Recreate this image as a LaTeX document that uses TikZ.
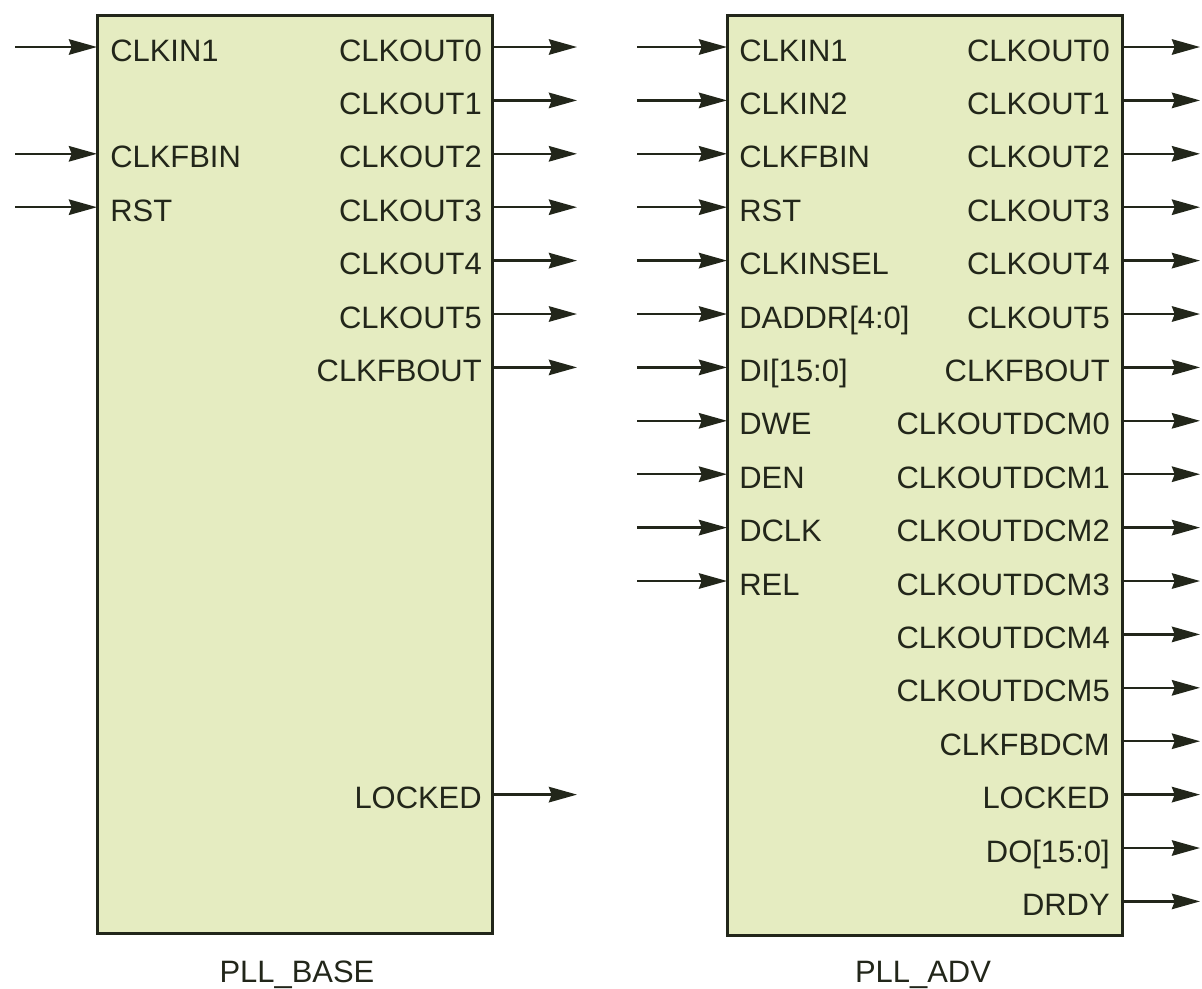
\documentclass[tikz,border=0pt]{standalone}
\usepackage{fontspec}
\setmainfont{Liberation Sans}
\usetikzlibrary{arrows.meta}
\definecolor{pllfill}{RGB}{229,236,193}
\definecolor{pllink}{RGB}{34,38,26}
\tikzset{
  blk/.style={draw=pllink, line width=0.075cm, fill=pllfill},
  sig/.style={draw=pllink, line width=0.062cm, -{Stealth[length=20pt, width=11pt, inset=2pt]}},
  pinin/.style={anchor=base west, inner sep=0pt, text=pllink, font=\fontsize{22}{26}\selectfont},
  pinout/.style={anchor=base east, inner sep=0pt, text=pllink, font=\fontsize{22}{26}\selectfont},
  title/.style={anchor=base, inner sep=0pt, text=pllink, font=\fontsize{22}{26}\selectfont}
}
\begin{document}
\begin{tikzpicture}[x=0.025cm, y=-0.025cm]
  \useasboundingbox (0,0) rectangle (1202,988);
  % PLL_BASE block
  \coordinate (baseNW) at (97,15);
  \coordinate (baseSE) at (492,933);
  \draw[blk] (baseNW) rectangle (baseSE);
  \node[title] (basename) at (297,982) {PLL\_BASE};

  \foreach \row/\pin in {0/CLKIN1, 2/CLKFBIN, 3/RST} {
    \node[pinin] (bin\row) at (110,47+53.4*\row+14) {\pin};
    \coordinate (binS\row) at (15,47+53.4*\row);
    \coordinate (binE\row) at (97,47+53.4*\row);
    \draw[sig] (binS\row) -- (binE\row);
  }
  \foreach \row/\pin in {0/CLKOUT0, 1/CLKOUT1, 2/CLKOUT2, 3/CLKOUT3, 4/CLKOUT4,
                         5/CLKOUT5, 6/CLKFBOUT, 14/LOCKED} {
    \node[pinout] (bout\row) at (482,47+53.4*\row+14) {\pin};
    \coordinate (boutS\row) at (492,47+53.4*\row);
    \coordinate (boutE\row) at (577,47+53.4*\row);
    \draw[sig] (boutS\row) -- (boutE\row);
  }

  % PLL_ADV block
  \coordinate (advNW) at (727,15);
  \coordinate (advSE) at (1122,935);
  \draw[blk] (advNW) rectangle (advSE);
  \node[title] (advname) at (923,982) {PLL\_ADV};

  \foreach \row/\pin in {0/CLKIN1, 1/CLKIN2, 2/CLKFBIN, 3/RST, 4/CLKINSEL,
                         5/{DADDR[4:0]}, 6/{DI[15:0]}, 7/DWE, 8/DEN, 9/DCLK, 10/REL} {
    \node[pinin] (ain\row) at (739,47+53.4*\row+14) {\pin};
    \coordinate (ainS\row) at (637,47+53.4*\row);
    \coordinate (ainE\row) at (727,47+53.4*\row);
    \draw[sig] (ainS\row) -- (ainE\row);
  }
  \foreach \row/\pin in {0/CLKOUT0, 1/CLKOUT1, 2/CLKOUT2, 3/CLKOUT3, 4/CLKOUT4,
                         5/CLKOUT5, 6/CLKFBOUT, 7/CLKOUTDCM0, 8/CLKOUTDCM1,
                         9/CLKOUTDCM2, 10/CLKOUTDCM3, 11/CLKOUTDCM4, 12/CLKOUTDCM5,
                         13/CLKFBDCM, 14/LOCKED, 15/{DO[15:0]}, 16/DRDY} {
    \node[pinout] (aout\row) at (1110,47+53.4*\row+14) {\pin};
    \coordinate (aoutS\row) at (1122,47+53.4*\row);
    \coordinate (aoutE\row) at (1200,47+53.4*\row);
    \draw[sig] (aoutS\row) -- (aoutE\row);
  }
\end{tikzpicture}
\end{document}
